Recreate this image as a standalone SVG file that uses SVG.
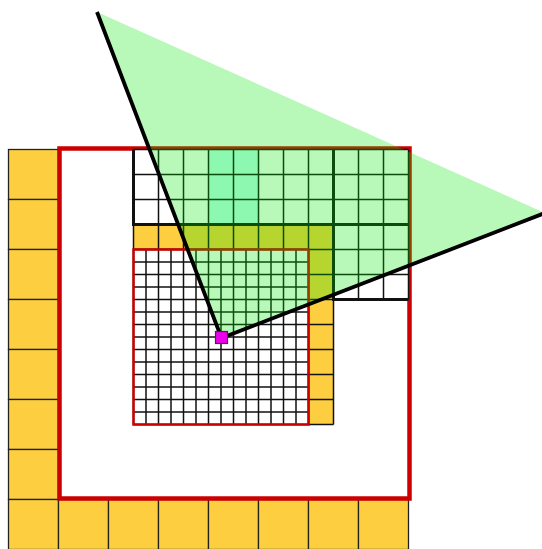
<svg xmlns="http://www.w3.org/2000/svg" width="542" height="549" viewBox="0 0 542 549">
<style>
.y{fill:#fdcf40;stroke:#222;stroke-width:1.3}
.w{fill:#fff}
.t{fill:#c2fff4}
.g{fill:none;stroke:#111;stroke-width:1.5}
.thick{fill:none;stroke:#111;stroke-width:3}
.red{fill:none;stroke:#cc0000}
.frus{fill:none;stroke:#000;stroke-width:3.8;stroke-linecap:butt}
</style>
<rect width="542" height="549" fill="#fff"/>
<g id="coarse-level">
<rect class="y" x="8.5" y="149.5" width="50" height="50"/>
<rect class="y" x="8.5" y="199.5" width="50" height="50"/>
<rect class="y" x="8.5" y="249.5" width="50" height="50"/>
<rect class="y" x="8.5" y="299.5" width="50" height="50"/>
<rect class="y" x="8.5" y="349.5" width="50" height="50"/>
<rect class="y" x="8.5" y="399.5" width="50" height="50"/>
<rect class="y" x="8.5" y="449.5" width="50" height="50"/>
<rect class="y" x="8.5" y="499.5" width="50" height="50"/>
<rect class="y" x="58.5" y="499.5" width="50" height="50"/>
<rect class="y" x="108.5" y="499.5" width="50" height="50"/>
<rect class="y" x="158.5" y="499.5" width="50" height="50"/>
<rect class="y" x="208.5" y="499.5" width="50" height="50"/>
<rect class="y" x="258.5" y="499.5" width="50" height="50"/>
<rect class="y" x="308.5" y="499.5" width="50" height="50"/>
<rect class="y" x="358.5" y="499.5" width="50" height="50"/>
</g>
<g id="outer-bound">
<rect class="red" x="59.5" y="148.5" width="350" height="350" stroke-width="4.5"/>
</g>
<g id="medium-level">
<rect class="w" x="133.5" y="149.5" width="275" height="75"/>
<rect class="w" x="333.5" y="224.5" width="75" height="75"/>
<rect class="t" x="208.5" y="149.5" width="50" height="75"/>
<rect fill="#fdcf40" x="133.5" y="224.5" width="200" height="25"/>
<rect fill="#fdcf40" x="308.5" y="249.5" width="25" height="175"/>
<path class="g" d="M133.5 149.5V249.5M158.5 149.5V249.5M183.5 149.5V249.5M208.5 149.5V249.5M233.5 149.5V249.5M258.5 149.5V249.5M283.5 149.5V249.5M308.5 149.5V424.5M333.5 149.5V424.5M358.5 149.5V299.5M383.5 149.5V299.5M408.5 149.5V299.5M133.5 149.5H408.5M133.5 174.5H408.5M133.5 199.5H408.5M133.5 224.5H408.5M133.5 249.5H408.5M308.5 274.5H408.5M308.5 299.5H408.5M308.5 324.5H333.5M308.5 349.5H333.5M308.5 374.5H333.5M308.5 399.5H333.5M308.5 424.5H333.5"/>
<path class="thick" d="M133.5 149.5V224.5H408.5M333.5 149.5V299.5H408.5"/>
</g>
<g id="fine-level">
<rect class="w" x="133.5" y="249.5" width="175" height="175"/>
<path class="g" d="M133.5 249.5V424.5M146 249.5V424.5M158.5 249.5V424.5M171 249.5V424.5M183.5 249.5V424.5M196 249.5V424.5M208.5 249.5V424.5M221 249.5V424.5M233.5 249.5V424.5M246 249.5V424.5M258.5 249.5V424.5M271 249.5V424.5M283.5 249.5V424.5M296 249.5V424.5M308.5 249.5V424.5M133.5 249.5H308.5M133.5 262H308.5M133.5 274.5H308.5M133.5 287H308.5M133.5 299.5H308.5M133.5 312H308.5M133.5 324.5H308.5M133.5 337H308.5M133.5 349.5H308.5M133.5 362H308.5M133.5 374.5H308.5M133.5 387H308.5M133.5 399.5H308.5M133.5 412H308.5M133.5 424.5H308.5"/>
<rect class="red" x="133.5" y="249.5" width="175" height="175" stroke-width="2.5"/>
</g>
<g id="frustum">
<polygon points="97,12 545,213 221.5,338" fill="rgb(0,230,0)" fill-opacity="0.28"/>
</g>
<g id="connectors">
<path class="frus" d="M97 12L221.5 338L545 213"/>
</g>
<g id="camera">
<rect x="215.5" y="331.5" width="12" height="12" fill="#ee00ee" stroke="#333" stroke-width="1.2"/>
</g>
</svg>
